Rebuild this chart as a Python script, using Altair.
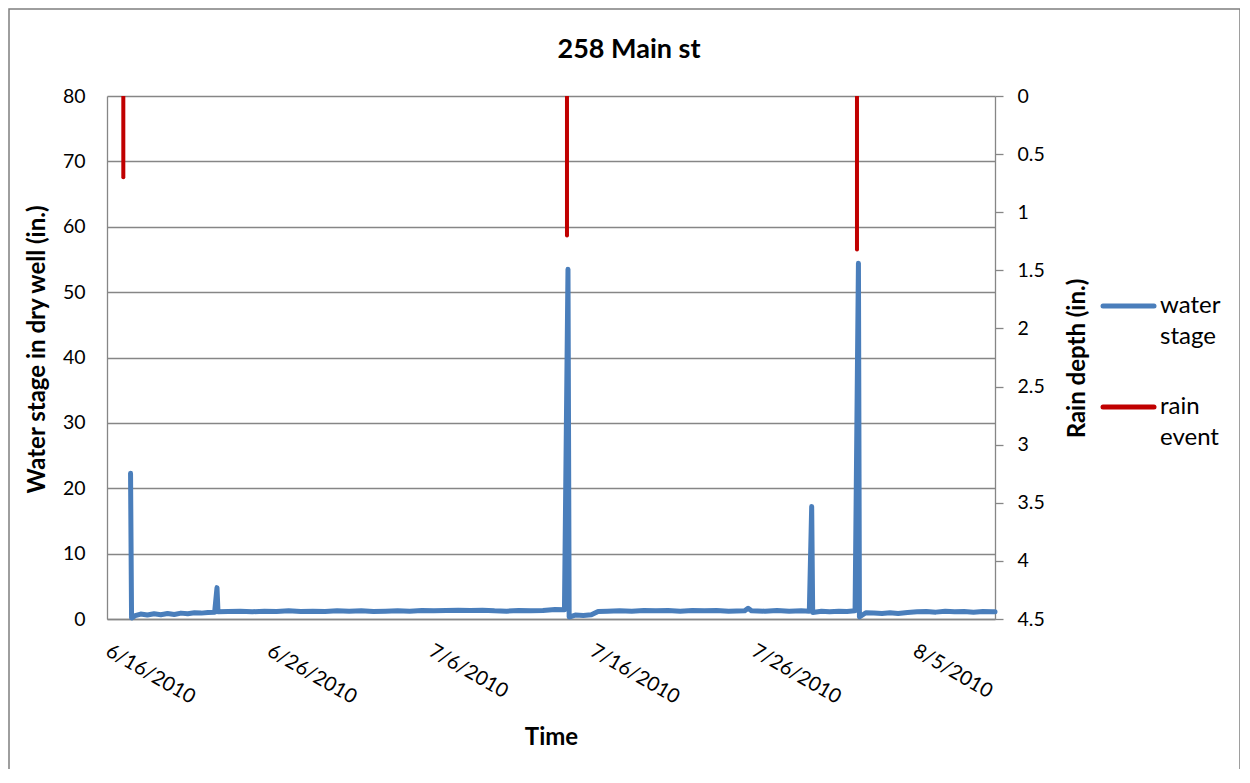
import altair as alt
import pandas as pd

# ---------------- data ----------------
water_times = [
    "2010-06-17 11:00", "2010-06-17 12:30", "2010-06-17 18:00", "2010-06-18 02:00",
    "2010-06-18 12:00", "2010-06-18 22:00", "2010-06-19 08:00", "2010-06-19 18:00",
    "2010-06-20 04:00", "2010-06-20 14:00", "2010-06-21 00:00", "2010-06-21 10:00",
    "2010-06-21 20:00", "2010-06-22 06:00", "2010-06-22 16:00", "2010-06-22 19:30",
    "2010-06-22 21:00", "2010-06-23 12:00", "2010-06-24 06:00", "2010-06-25 00:00",
    "2010-06-25 18:00", "2010-06-26 12:00", "2010-06-27 06:00", "2010-06-28 00:00",
    "2010-06-28 18:00", "2010-06-29 12:00", "2010-06-30 06:00", "2010-07-01 00:00",
    "2010-07-01 18:00", "2010-07-02 12:00", "2010-07-03 06:00", "2010-07-04 00:00",
    "2010-07-04 18:00", "2010-07-05 12:00", "2010-07-06 06:00", "2010-07-07 00:00",
    "2010-07-07 18:00", "2010-07-08 12:00", "2010-07-09 06:00", "2010-07-10 00:00",
    "2010-07-10 18:00", "2010-07-11 12:00", "2010-07-12 06:00", "2010-07-13 00:00",
    "2010-07-13 18:00", "2010-07-14 08:00", "2010-07-14 13:15", "2010-07-14 15:00",
    "2010-07-15 00:00", "2010-07-15 12:00", "2010-07-16 00:00", "2010-07-16 10:00",
    "2010-07-17 00:00", "2010-07-17 18:00", "2010-07-18 12:00", "2010-07-19 06:00",
    "2010-07-20 00:00", "2010-07-20 18:00", "2010-07-21 12:00", "2010-07-22 06:00",
    "2010-07-23 00:00", "2010-07-23 18:00", "2010-07-24 12:00", "2010-07-25 12:00",
    "2010-07-25 17:00", "2010-07-25 22:00", "2010-07-26 18:00", "2010-07-27 12:00",
    "2010-07-28 06:00", "2010-07-29 00:00", "2010-07-29 12:00", "2010-07-29 15:30",
    "2010-07-29 17:00", "2010-07-30 06:00", "2010-07-30 18:00", "2010-07-31 08:00",
    "2010-07-31 20:00", "2010-08-01 08:00", "2010-08-01 13:00", "2010-08-01 14:30",
    "2010-08-02 00:00", "2010-08-02 12:00", "2010-08-03 00:00", "2010-08-03 12:00",
    "2010-08-04 00:00", "2010-08-04 14:00", "2010-08-05 04:00", "2010-08-05 18:00",
    "2010-08-06 08:00", "2010-08-06 22:00", "2010-08-07 12:00", "2010-08-08 02:00",
    "2010-08-08 16:00", "2010-08-09 06:00", "2010-08-09 20:00", "2010-08-10 00:00",
]
water_stage = [
    22.3, 0.15, 0.5, 0.75,
    0.6, 0.8, 0.65, 0.85,
    0.7, 0.9, 0.8, 0.95,
    0.9, 1.0, 1.05, 4.8,
    1.1, 1.15, 1.2, 1.1,
    1.2, 1.15, 1.25, 1.15,
    1.2, 1.15, 1.25, 1.2,
    1.25, 1.15, 1.2, 1.25,
    1.2, 1.3, 1.25, 1.3,
    1.35, 1.3, 1.35, 1.25,
    1.2, 1.3, 1.25, 1.3,
    1.45, 1.4, 53.5, 0.3,
    0.6, 0.55, 0.65, 1.15,
    1.2, 1.25, 1.2, 1.3,
    1.25, 1.3, 1.2, 1.3,
    1.25, 1.3, 1.2, 1.25,
    1.65, 1.25, 1.2, 1.3,
    1.2, 1.25, 1.2, 17.2,
    1.0, 1.2, 1.1, 1.2,
    1.15, 1.25, 54.4, 0.3,
    0.95, 0.9, 0.85, 0.95,
    0.85, 1.0, 1.1, 1.15,
    1.05, 1.2, 1.1, 1.15,
    1.05, 1.15, 1.1, 1.1,
]

rain_times = ["2010-06-17 00:15", "2010-07-14 11:45", "2010-08-01 10:50"]
rain_depth = [0.70, 1.20, 1.32]
rain_top = [0, 0, 0]

series_names = ["water stage", "rain event"]
x_tick_dates = [(2010, 6, 16), (2010, 6, 26), (2010, 7, 6), (2010, 7, 16), (2010, 7, 26), (2010, 8, 5)]
x_domain = [(2010, 6, 16), (2010, 8, 10)]
left_ticks = [0, 10, 20, 30, 40, 50, 60, 70, 80]
right_ticks = [0, 0.5, 1, 1.5, 2, 2.5, 3, 3.5, 4, 4.5]

# ---------------- styling ----------------
FONT = "Lato"
BLUE = "#4A7EBB"
RED = "#C00000"
GRID = "#868686"
FS = 19.5     # tick labels
TFS = 24      # axis titles
LFS = 24      # legend labels

water = pd.DataFrame({
    "time": pd.to_datetime(water_times).tz_localize("UTC"),
    "stage": water_stage,
    "series": series_names[0],
})
rain = pd.DataFrame({
    "time": pd.to_datetime(rain_times).tz_localize("UTC"),
    "depth": rain_depth,
    "top": rain_top,
    "series": series_names[1],
})
legend_df = pd.DataFrame({"series": series_names, "order": list(range(len(series_names)))})


def dt(t):
    return alt.DateTime(year=t[0], month=t[1], date=t[2], utc=True)


x_scale = alt.Scale(type="utc", domain=[dt(t) for t in x_domain])
x_axis = alt.Axis(
    values=[dt(t) for t in x_tick_dates],
    labelExpr="utcFormat(datum.value, '%-m/%-d/%Y')",
    labelAngle=30, labelAlign="left", labelBaseline="middle", labelPadding=30,
    ticks=False, grid=False, domainColor=GRID, domainWidth=1.3,
    labelFont=FONT, labelFontSize=20, labelColor="black",
    title="Time", titleFont=FONT, titleFontSize=TFS, titleFontWeight="bold", titleColor="black",
    titleX=444, titleY=118, titleAlign="center", titleBaseline="middle",
)

color = alt.Color("series:N", scale=alt.Scale(domain=series_names, range=[BLUE, RED]), legend=None)

line = alt.Chart(water).mark_line(strokeWidth=5, strokeCap="round", strokeJoin="round").encode(
    x=alt.X("time:T", scale=x_scale, axis=x_axis),
    y=alt.Y("stage:Q", scale=alt.Scale(domain=[0, 80]), axis=alt.Axis(
        values=left_ticks, ticks=False, labelPadding=22, grid=True, gridColor=GRID, gridWidth=1.3,
        domainColor=GRID, domainWidth=1.3,
        labelFont=FONT, labelFontSize=FS, labelColor="black",
        title="Water stage in dry well (in.)", titleFont=FONT, titleFontSize=TFS,
        titleFontWeight="bold", titleColor="black", titleAngle=-90,
        titleX=-70, titleY=253, titleAlign="center", titleBaseline="middle",
    )),
    color=color,
)

rule = alt.Chart(rain).mark_rule(strokeWidth=4, strokeCap="round", clip=True).encode(
    x=alt.X("time:T", scale=x_scale),
    y=alt.Y("depth:Q", scale=alt.Scale(domain=[0, 4.5], reverse=True), axis=alt.Axis(
        orient="right", values=right_ticks, format="~g", ticks=True, tickSize=8, tickColor=GRID,
        tickWidth=1.3, labelPadding=14, grid=False, domainColor=GRID, domainWidth=1.3,
        labelFont=FONT, labelFontSize=FS, labelColor="black",
        title="Rain depth (in.)", titleFont=FONT, titleFontSize=TFS,
        titleFontWeight="bold", titleColor="black", titleAngle=-90,
        titleX=82, titleY=262, titleAlign="center", titleBaseline="middle",
    )),
    y2="top:Q",
    color=color,
)

# legend (drawn as marks so the wrapped labels get Excel-like line spacing)
legend_y = alt.Y("order:Q", scale=alt.Scale(domain=[0, 1], range=[210, 311]), axis=None)
legend_sym = alt.Chart(legend_df).mark_rule(strokeWidth=5, strokeCap="round").encode(
    x=alt.value(996), x2=alt.value(1047), y=legend_y, color=color,
)
legend_txt = alt.Chart(legend_df).mark_text(
    align="left", baseline="middle", lineBreak=" ", lineHeight=31,
    font=FONT, fontSize=LFS, color="black",
).encode(x=alt.value(1053), y=legend_y, text="series:N")

# outer chart-area frame
frame = alt.Chart(pd.DataFrame({"k": [0]})).mark_rect(
    fillOpacity=0, stroke="#7f7f7f", strokeWidth=1.5,
).encode(x=alt.value(-98), x2=alt.value(1133), y=alt.value(-87), y2=alt.value(720))

chart = alt.layer(frame, line, rule, legend_sym, legend_txt).resolve_scale(y="independent").properties(
    width=888, height=523,
    autosize=alt.AutoSizeParams(type="none"),
    padding={"left": 99, "top": 88, "right": 245, "bottom": 150},
    title=alt.Title("258 Main st", font=FONT, fontSize=27, fontWeight="bold", color="black",
                    anchor="middle", frame="group", dx=78, offset=-56),
    background="white",
).configure_view(stroke="transparent")

chart.save("out.html", embed_options={"renderer": "svg", "actions": False})
